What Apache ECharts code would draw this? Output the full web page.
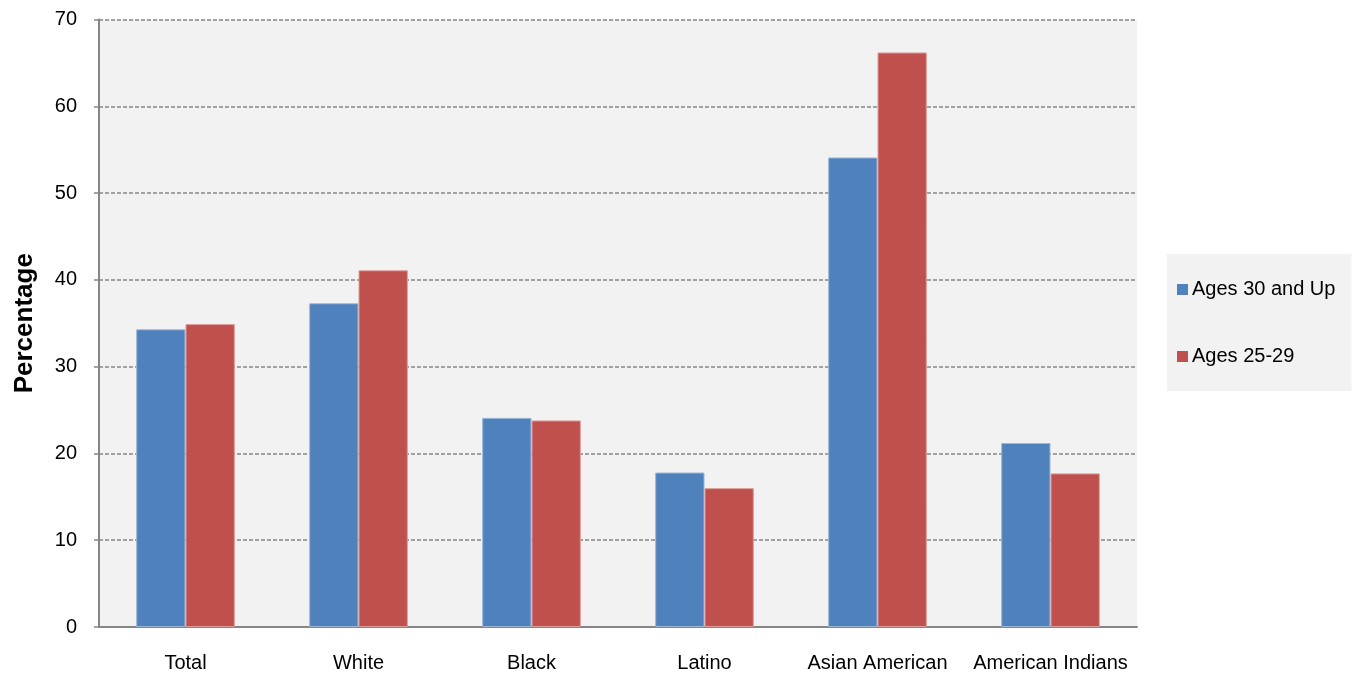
<!DOCTYPE html>
<html>
<head>
<meta charset="utf-8">
<script src="https://cdn.jsdelivr.net/npm/echarts@6/dist/echarts.min.js"></script>
<style>html,body{margin:0;padding:0;background:#fff;}#c{width:1357px;height:673px;}</style>
</head>
<body>
<div id="c"></div>
<script>
const categories = ['Total', 'White', 'Black', 'Latino', 'Asian American', 'American Indians'];
const ages30Up = [34.3, 37.3, 24.1, 17.8, 54.1, 21.2];
const ages25to29 = [34.9, 41.1, 23.8, 16.0, 66.2, 17.7];
const yTicks = [0, 10, 20, 30, 40, 50, 60, 70];

const chart = echarts.init(document.getElementById('c'), null, {renderer: 'canvas'});
const font = 'Liberation Sans, Arial, sans-serif';
chart.setOption({
  animation: false,
  textStyle: {fontFamily: font},
  grid: {left: 99, right: 220, top: 19.5, bottom: 46, show: true, backgroundColor: '#f2f2f2', borderWidth: 0, containLabel: false},
  legend: {
    orient: 'vertical',
    left: 1167, top: 254,
    padding: [24, 16, 23, 10],
    backgroundColor: '#f2f2f2',
    itemWidth: 11, itemHeight: 11, itemGap: 44,
    icon: 'rect',
    itemStyle: {borderWidth: 0},
    textStyle: {fontSize: 20, color: '#000', lineHeight: 23, fontFamily: font, padding: [0,0,0,-1]},
    data: ['Ages 30 and Up', 'Ages 25-29']
  },
  xAxis: {
    type: 'category',
    data: categories,
    axisLine: {lineStyle: {color: '#868686', width: 2}},
    axisTick: {show: false},
    axisLabel: {fontSize: 20, color: '#000', margin: 26, fontFamily: font, interval: 0},
    splitLine: {show: false}
  },
  yAxis: {
    type: 'value',
    min: yTicks[0], max: yTicks[yTicks.length - 1], interval: 10,
    name: 'Percentage',
    nameLocation: 'middle',
    nameGap: 61,
    nameTextStyle: {fontSize: 26, fontWeight: 'bold', color: '#000', fontFamily: font},
    axisLine: {show: true, lineStyle: {color: '#868686', width: 2}},
    axisTick: {show: true, length: 5, lineStyle: {color: '#868686', width: 1.5}},
    axisLabel: {fontSize: 20, color: '#000', margin: 22, fontFamily: font},
    splitLine: {show: true, lineStyle: {color: '#868686', width: 1.5, type: [4, 2]}}
  },
  series: [
    {name: 'Ages 30 and Up', type: 'bar', data: ages30Up, barGap: '0%', barCategoryGap: '43%',
     itemStyle: {color: '#4f81bd', borderColor: '#9cb6d8', borderWidth: 1}},
    {name: 'Ages 25-29', type: 'bar', data: ages25to29,
     itemStyle: {color: '#c0504d', borderColor: '#dc9c9a', borderWidth: 1}}
  ]
});
</script>
</body>
</html>
